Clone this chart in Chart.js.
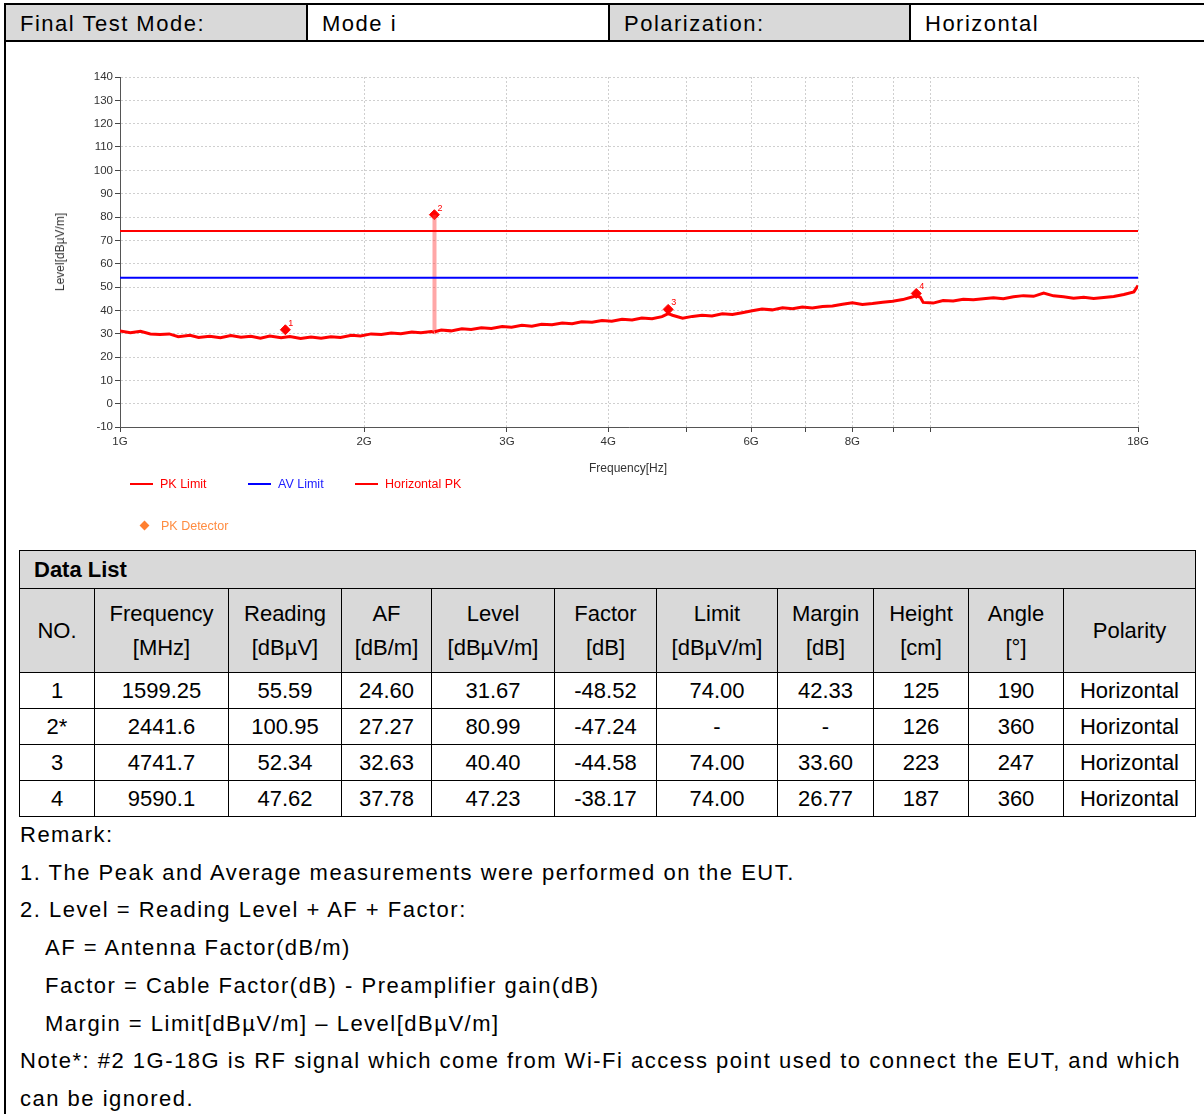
<!DOCTYPE html>
<html>
<head>
<meta charset="utf-8">
<script src="https://cdn.jsdelivr.net/npm/chart.js@4.4.1/dist/chart.umd.min.js"></script>
<style>
  body { margin: 0; width: 1204px; height: 1114px; background: #fff; font-family: "Liberation Sans", Arial, sans-serif; position: relative; overflow: hidden; }
  .frame { position: absolute; left: 4px; top: 3px; width: 1210px; height: 1200px; border-left: 2px solid #000; border-top: 2px solid #000; }
  .hdr { position: absolute; top: 3px; border: 2px solid #000; font-size: 22px; letter-spacing: 1.5px; line-height: 37px; padding-left: 14px; box-sizing: border-box; height: 39px; }
  .gray { background: #d9d9d9; }
  #chartBox { position: absolute; left: 0; top: 42px; width: 1204px; height: 500px; }
  .axis-title { position: absolute; font-size: 12px; color: #333; white-space: nowrap; }
  .legend { position: absolute; font-size: 12.5px; white-space: nowrap; }
  .legend .sw { display: inline-block; width: 23px; height: 2px; vertical-align: middle; margin-right: 7px; position: relative; top: -1px; }
  table.data { position: absolute; left: 19px; top: 550px; width: 1177px; border-collapse: collapse; font-size: 22px; }
  table.data td { border: 1.5px solid #000; text-align: center; padding: 0; }
  .remarks { position: absolute; left: 20px; top: 816px; font-size: 22px; letter-spacing: 1.5px; line-height: 37.7px; width: 1180px; }
  .remarks .ind { padding-left: 25px; }
</style>
</head>
<body>
<div class="frame"></div>
<div class="hdr gray" style="left:4px;width:304px;">Final Test Mode:</div>
<div class="hdr" style="left:306px;width:304px;">Mode i</div>
<div class="hdr gray" style="left:608px;width:303px;">Polarization:</div>
<div class="hdr" style="left:909px;width:300px;">Horizontal</div>

<div id="chartBox"><canvas id="chart"></canvas></div>
<div class="axis-title" style="left:60px;top:252px;transform:translate(-50%,-50%) rotate(-90deg);">Level[dBµV/m]</div>
<div class="axis-title" style="left:628px;top:468px;transform:translate(-50%,-50%);">Frequency[Hz]</div>

<div class="legend" style="left:130px;top:477px;color:#ff0000;"><span class="sw" style="background:#ff0000"></span>PK Limit</div>
<div class="legend" style="left:248px;top:477px;color:#2020ff;"><span class="sw" style="background:#0000ff"></span>AV Limit</div>
<div class="legend" style="left:355px;top:477px;color:#ff0000;"><span class="sw" style="background:#ff0000"></span>Horizontal PK</div>
<div class="legend" style="left:141px;top:519px;color:#ff8c40;"><span style="display:inline-block;width:7px;height:7px;background:#ff7f30;transform:rotate(45deg);margin-right:13px;position:relative;top:-1px;"></span>PK Detector</div>

<table class="data">
  <tr class="gray" style="height:38px;"><td colspan="11" style="text-align:left;padding-left:14px;font-weight:bold;">Data List</td></tr>
  <tr class="gray" style="height:84px;line-height:34px;">
    <td style="width:74px;">NO.</td>
    <td style="width:133px;">Frequency<br>[MHz]</td>
    <td style="width:112px;">Reading<br>[dBµV]</td>
    <td style="width:89px;">AF<br>[dB/m]</td>
    <td style="width:122px;">Level<br>[dBµV/m]</td>
    <td style="width:101px;">Factor<br>[dB]</td>
    <td style="width:120px;">Limit<br>[dBµV/m]</td>
    <td style="width:95px;">Margin<br>[dB]</td>
    <td style="width:94px;">Height<br>[cm]</td>
    <td style="width:94px;">Angle<br>[°]</td>
    <td>Polarity</td>
  </tr>
  <tr style="height:36px;"><td>1</td><td>1599.25</td><td>55.59</td><td>24.60</td><td>31.67</td><td>-48.52</td><td>74.00</td><td>42.33</td><td>125</td><td>190</td><td>Horizontal</td></tr>
  <tr style="height:36px;"><td>2*</td><td>2441.6</td><td>100.95</td><td>27.27</td><td>80.99</td><td>-47.24</td><td>-</td><td>-</td><td>126</td><td>360</td><td>Horizontal</td></tr>
  <tr style="height:36px;"><td>3</td><td>4741.7</td><td>52.34</td><td>32.63</td><td>40.40</td><td>-44.58</td><td>74.00</td><td>33.60</td><td>223</td><td>247</td><td>Horizontal</td></tr>
  <tr style="height:36px;"><td>4</td><td>9590.1</td><td>47.62</td><td>37.78</td><td>47.23</td><td>-38.17</td><td>74.00</td><td>26.77</td><td>187</td><td>360</td><td>Horizontal</td></tr>
</table>

<div class="remarks">
  <div>Remark:</div>
  <div>1. The Peak and Average measurements were performed on the EUT.</div>
  <div>2. Level = Reading Level + AF + Factor:</div>
  <div class="ind">AF = Antenna Factor(dB/m)</div>
  <div class="ind">Factor = Cable Factor(dB) - Preamplifier gain(dB)</div>
  <div class="ind">Margin = Limit[dBµV/m] – Level[dBµV/m]</div>
  <div>Note*: #2 1G-18G is RF signal which come from Wi-Fi access point used to connect the EUT, and which can be ignored.</div>
</div>

<script>
// Sweep trace (MHz / dBuV/m)
const traceFreq = [1000, 1030, 1060, 1090, 1120, 1150, 1180, 1220, 1250, 1290, 1330, 1370, 1410, 1450, 1490, 1530,
  1580, 1620, 1670, 1720, 1770, 1820, 1870, 1930, 1980, 2040, 2100, 2160, 2220, 2290, 2350, 2420, 2440, 2441.6, 2443,
  2490, 2560, 2640, 2710, 2790, 2870, 2960, 3040, 3130, 3220, 3310, 3410, 3510, 3610, 3710, 3820, 3930, 4040, 4160,
  4280, 4400, 4530, 4660, 4741.7, 4800, 4940, 5080, 5220, 5370, 5530, 5690, 5850, 6020, 6190, 6370, 6560, 6750, 6940,
  7140, 7350, 7560, 7780, 8000, 8230, 8470, 8720, 8970, 9230, 9500, 9590, 9700, 9780, 10060, 10350, 10650, 10960,
  11280, 11600, 11940, 12280, 12640, 13000, 13380, 13770, 14160, 14570, 14990, 15430, 15870, 16330, 16800, 17290,
  17790, 18000];
const traceLevel = [31.2, 30.4, 31.0, 29.9, 29.6, 29.9, 28.7, 29.3, 28.4, 28.9, 28.3, 29.2, 28.5, 28.9, 28.1, 29.0,
  28.3, 28.8, 27.9, 28.6, 28.0, 28.7, 28.4, 29.3, 29.0, 29.9, 29.6, 30.3, 30.0, 30.7, 30.4, 30.9, 30.6, 80.99, 30.8,
  31.6, 31.2, 32.1, 31.8, 32.5, 32.2, 33.1, 32.8, 33.6, 33.2, 34.0, 33.8, 34.6, 34.3, 35.1, 34.9, 35.6, 35.3, 36.2,
  35.9, 36.7, 36.4, 37.3, 38.6, 37.9, 36.6, 37.4, 37.9, 37.6, 38.5, 38.2, 39.0, 39.8, 40.6, 40.2, 41.1, 40.7, 41.4,
  41.0, 41.6, 41.9, 42.6, 43.2, 42.5, 42.9, 43.5, 43.9, 44.6, 45.8, 46.3, 45.6, 43.4, 43.1, 44.2, 44.0, 44.7,
  44.5, 45.0, 45.4, 45.0, 45.8, 46.3, 46.0, 47.4, 46.2, 45.8, 45.2, 45.6, 45.1, 45.5, 45.9, 46.8,
  47.9, 50.6];

// PK detector markers
const markerFreq = [1599.25, 2441.6, 4741.7, 9590.1];
const markerLevel = [31.67, 80.99, 40.40, 47.23];
const markerNo = ['1', '2', '3', '4'];

// Limits
const limitFreq = [1000, 18000];
const pkLimit = [74, 74];
const avLimit = [54, 54];

// Axis ticks
const xTickValues = [1000, 2000, 3000, 4000, 5000, 6000, 7000, 8000, 9000, 10000, 18000];
const xTickLabels = ['1G', '2G', '3G', '4G', '', '6G', '', '8G', '', '', '18G'];
const yMin = -10, yMax = 140, yStep = 10;

function pts(xs, ys) {
  return xs.map((x, i) => ({ x: x, y: ys[i] }));
}

// draws the small marker numbers
const markerLabels = {
  id: 'markerLabels',
  afterDatasetsDraw(chart) {
    const meta = chart.getDatasetMeta(3);
    const ctx = chart.ctx;
    ctx.save();
    ctx.font = '9px "Liberation Sans", Arial';
    ctx.fillStyle = '#ff0000';
    ctx.textBaseline = 'bottom';
    meta.data.forEach((pt, i) => {
      ctx.fillText(markerNo[i], pt.x + 3, pt.y - 2);
    });
    ctx.restore();
  }
};

Chart.defaults.font.family = '"Liberation Sans", Arial, sans-serif';
Chart.defaults.color = '#333';

const ctx = document.getElementById('chart').getContext('2d');
new Chart(ctx, {
  type: 'line',
  data: {
    datasets: [
      { label: 'PK Limit', data: pts(limitFreq, pkLimit), borderColor: '#ff0000', borderWidth: 2, pointRadius: 0 },
      { label: 'AV Limit', data: pts(limitFreq, avLimit), borderColor: '#0000ff', borderWidth: 2, pointRadius: 0 },
      {
        label: 'Horizontal PK', data: pts(traceFreq, traceLevel), borderColor: '#ff0000', borderWidth: 3, pointRadius: 0,
        segment: {
          borderColor: c => (c.p0.parsed.y > 60 || c.p1.parsed.y > 60) ? 'rgba(255,60,60,0.45)' : undefined,
          borderWidth: c => (c.p0.parsed.y > 60 || c.p1.parsed.y > 60) ? 4 : undefined
        }
      },
      {
        label: 'PK Detector', data: pts(markerFreq, markerLevel), showLine: false,
        pointStyle: 'rectRot', pointRadius: 5, backgroundColor: '#ff0000', borderColor: '#ff0000'
      }
    ]
  },
  options: {
    responsive: true,
    maintainAspectRatio: false,
    animation: false,
    layout: { padding: { left: 0, right: 66, top: 35, bottom: 85 } },
    plugins: { legend: { display: false }, tooltip: { enabled: false } },
    scales: {
      x: {
        type: 'logarithmic',
        min: 1000,
        max: 18000,
        afterBuildTicks: s => { s.ticks = xTickValues.map(v => ({ value: v })); },
        afterFit: s => { s.height = 30; },
        ticks: {
          autoSkip: false, maxRotation: 0, padding: 3,
          font: { size: 11.5 }, color: '#333',
          callback: (v, i) => xTickLabels[i]
        },
        grid: { color: '#cfcfcf', tickColor: '#444', tickLength: 5 },
        border: { color: '#555', width: 1, dash: [2, 2] }
      },
      y: {
        min: yMin,
        max: yMax,
        afterFit: s => { s.width = 120; },
        ticks: { stepSize: yStep, font: { size: 11.5 }, color: '#333', padding: 2 },
        grid: { color: '#cfcfcf', tickColor: '#444', tickLength: 5 },
        border: { color: '#555', width: 1, dash: [2, 2] }
      }
    }
  },
  plugins: [markerLabels]
});
</script>
</body>
</html>
